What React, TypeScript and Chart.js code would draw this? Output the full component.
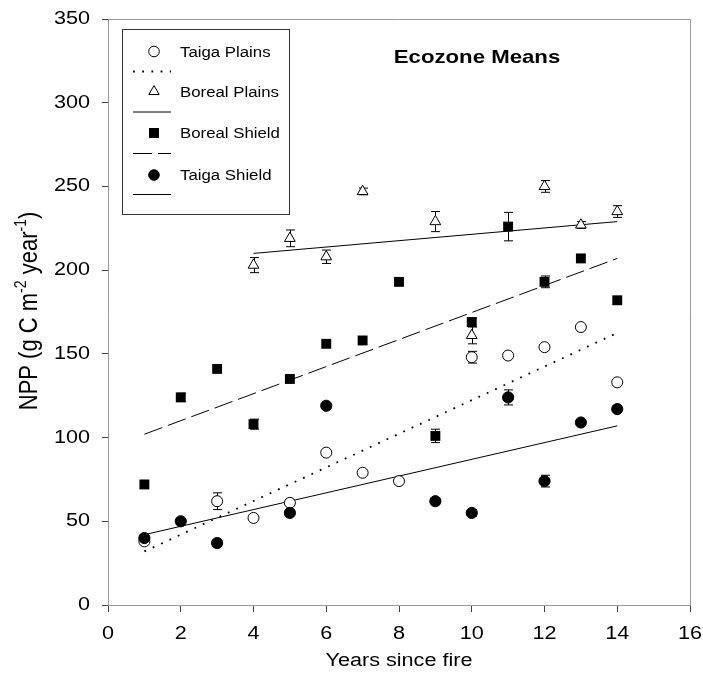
import React, { useEffect, useRef } from 'react';
import { Chart, registerables } from 'chart.js';

Chart.register(...registerables);

// ---------------- data ----------------
const xTicks = [0, 2, 4, 6, 8, 10, 12, 14, 16];
const yTicks = [0, 50, 100, 150, 200, 250, 300, 350];

const seriesNames = ['Taiga Plains', 'Boreal Plains', 'Boreal Shield', 'Taiga Shield'];

const tpYears = [1, 3, 4, 5, 6, 7, 8, 10, 11, 12, 13, 14];
const tpValues = [38, 62, 52, 61, 91, 79, 74, 148, 149, 154, 166, 133];
const tpErr = [0, 5, 0, 0, 0, 0, 0, 3.5, 0, 0, 0, 0];

const bpYears = [4, 5, 6, 7, 9, 10, 12, 13, 14];
const bpValues = [203, 219, 208, 247, 229, 161, 250, 227, 235];
const bpErr = [4.5, 5, 4, 2, 6, 5, 3.5, 2, 3.5];

const bsYears = [1, 2, 3, 4, 5, 6, 7, 8, 9, 10, 11, 12, 13, 14];
const bsValues = [72, 124, 141, 108, 135, 156, 158, 193, 101, 169, 226, 193, 207, 182];
const bsErr = [0, 2.5, 0, 3, 0, 0, 0, 0, 4, 2.5, 8.5, 3.5, 0, 0];

const tsYears = [1, 2, 3, 5, 6, 9, 10, 11, 12, 13, 14];
const tsValues = [40, 50, 37, 55, 119, 62, 55, 124, 74, 109, 117];
const tsErr = [0, 0, 0, 0, 0, 0, 2, 4.5, 3.5, 0, 0];

// regression lines (end points)
const tpFitX = [1, 14];
const tpFitY = [32, 162.5];
const bpFitX = [4, 14];
const bpFitY = [210, 229];
const bsFitX = [1, 14];
const bsFitY = [102, 207];
const tsFitX = [1, 14];
const tsFitY = [42, 107];

// ---------------- helpers ----------------
const FONT = '"Liberation Sans", Arial, Helvetica, sans-serif';
const SX = 1.2;

const pts = (xs: number[], ys: number[]) => xs.map((x, i) => ({ x, y: ys[i] }));

function stretchedText(
  ctx: CanvasRenderingContext2D,
  text: string,
  x: number,
  y: number,
  font: string,
  align: CanvasTextAlign,
  baseline: CanvasTextBaseline
) {
  ctx.save();
  ctx.translate(x, y);
  ctx.scale(SX, 1);
  ctx.font = font;
  ctx.textAlign = align;
  ctx.textBaseline = baseline;
  ctx.fillStyle = '#000';
  ctx.fillText(text, 0, 0);
  ctx.restore();
}

function drawMarker(ctx: CanvasRenderingContext2D, kind: string, x: number, y: number) {
  ctx.save();
  ctx.lineWidth = 1;
  ctx.strokeStyle = '#000';
  ctx.beginPath();
  if (kind === 'openCircle' || kind === 'filledCircle') {
    ctx.arc(x, y, 5.3, 0, Math.PI * 2);
    ctx.fillStyle = kind === 'openCircle' ? '#fff' : '#000';
    ctx.fill();
    ctx.stroke();
  } else if (kind === 'triangle') {
    const r = 6;
    ctx.moveTo(x, y - r);
    ctx.lineTo(x + 0.866 * r, y + 0.5 * r);
    ctx.lineTo(x - 0.866 * r, y + 0.5 * r);
    ctx.closePath();
    ctx.fillStyle = '#fff';
    ctx.fill();
    ctx.stroke();
  } else {
    ctx.fillStyle = '#000';
    ctx.fillRect(x - 5, y - 5, 10, 10);
  }
  ctx.restore();
}

const errorSets = [
  { index: 4, xs: tpYears, ys: tpValues, errs: tpErr },
  { index: 5, xs: bpYears, ys: bpValues, errs: bpErr },
  { index: 6, xs: bsYears, ys: bsValues, errs: bsErr },
  { index: 7, xs: tsYears, ys: tsValues, errs: tsErr },
];

const errorBarPlugin = {
  id: 'errorBars',
  beforeDatasetsDraw(chart: any) {
    const { ctx } = chart;
    const xs = chart.scales.x;
    const ys = chart.scales.y;
    ctx.save();
    ctx.strokeStyle = '#000';
    ctx.lineWidth = 1;
    errorSets.forEach((s) => {
      s.errs.forEach((e, j) => {
        if (!e) return;
        const px = Math.round(xs.getPixelForValue(s.xs[j])) + 0.5;
        const top = ys.getPixelForValue(s.ys[j] + e);
        const bot = ys.getPixelForValue(s.ys[j] - e);
        ctx.beginPath();
        ctx.moveTo(px, top);
        ctx.lineTo(px, bot);
        ctx.moveTo(px - 4.5, top);
        ctx.lineTo(px + 4.5, top);
        ctx.moveTo(px - 4.5, bot);
        ctx.lineTo(px + 4.5, bot);
        ctx.stroke();
      });
    });
    ctx.restore();
  },
};

const legendRows = [
  { name: seriesNames[0], marker: 'openCircle', dash: [1.8, 7.4], width: 1.8 },
  { name: seriesNames[1], marker: 'triangle', dash: [], width: 1 },
  { name: seriesNames[2], marker: 'square', dash: [19, 6], width: 1 },
  { name: seriesNames[3], marker: 'filledCircle', dash: [], width: 1 },
];

const decorPlugin = {
  id: 'decor',
  afterDraw(chart: any) {
    const { ctx, chartArea } = chart;
    const xs = chart.scales.x;
    const ys = chart.scales.y;
    ctx.save();
    // frame top/right
    ctx.strokeStyle = '#999';
    ctx.lineWidth = 1;
    ctx.beginPath();
    ctx.moveTo(chartArea.left, chartArea.top + 0.5);
    ctx.lineTo(chartArea.right + 0.5, chartArea.top + 0.5);
    ctx.lineTo(chartArea.right + 0.5, chartArea.bottom);
    ctx.stroke();

    // tick labels
    const tickFont = `18px ${FONT}`;
    yTicks.forEach((v) => {
      stretchedText(ctx, String(v), 90, ys.getPixelForValue(v), tickFont, 'right', 'middle');
    });
    xTicks.forEach((v) => {
      stretchedText(ctx, String(v), xs.getPixelForValue(v), 639, tickFont, 'center', 'alphabetic');
    });

    // axis titles
    stretchedText(ctx, 'Years since fire', 399, 666, `18px ${FONT}`, 'center', 'alphabetic');

    const parts = [
      { t: 'NPP (g C m', sup: false },
      { t: '-2', sup: true },
      { t: ' year', sup: false },
      { t: '-1', sup: true },
      { t: ')', sup: false },
    ];
    const mainF = `22px ${FONT}`;
    const supF = `14px ${FONT}`;
    ctx.save();
    ctx.translate(37, 311);
    ctx.rotate(-Math.PI / 2);
    ctx.scale(1, SX);
    let total = 0;
    parts.forEach((p) => {
      ctx.font = p.sup ? supF : mainF;
      total += ctx.measureText(p.t).width;
    });
    let cx = -total / 2;
    ctx.fillStyle = '#000';
    ctx.textBaseline = 'alphabetic';
    ctx.textAlign = 'left';
    parts.forEach((p) => {
      ctx.font = p.sup ? supF : mainF;
      ctx.fillText(p.t, cx, p.sup ? -9 : 0);
      cx += ctx.measureText(p.t).width;
    });
    ctx.restore();

    // chart title
    stretchedText(ctx, 'Ecozone Means', 477, 63, `bold 18.5px ${FONT}`, 'center', 'alphabetic');

    // legend
    ctx.fillStyle = '#fff';
    ctx.fillRect(122, 29, 167, 185);
    ctx.strokeStyle = '#333';
    ctx.lineWidth = 1;
    ctx.strokeRect(122.5, 29.5, 167, 185);
    const rowY = [51.5, 91.5, 133, 175];
    const lineY = [71, 111.5, 153, 194];
    legendRows.forEach((r, i) => {
      drawMarker(ctx, r.marker, 154, rowY[i]);
      stretchedText(ctx, r.name, 180, rowY[i] + 5, `14px ${FONT}`, 'left', 'alphabetic');
      ctx.save();
      ctx.strokeStyle = '#000';
      ctx.lineWidth = r.width;
      ctx.setLineDash(r.dash);
      ctx.beginPath();
      ctx.moveTo(133, lineY[i] + 0.5);
      ctx.lineTo(171, lineY[i] + 0.5);
      ctx.stroke();
      ctx.restore();
    });
    ctx.restore();
  },
};

export default function App() {
  const ref = useRef<HTMLCanvasElement | null>(null);

  useEffect(() => {
    document.body.style.margin = '0';
    if (!ref.current) return;
    const lineDs = (xs: number[], ys: number[], dash: number[], width: number) => ({
      data: pts(xs, ys),
      showLine: true,
      borderColor: '#000',
      borderWidth: width,
      borderDash: dash,
      pointRadius: 0,
      fill: false,
      tension: 0,
      order: 10,
    });
    const chart = new Chart(ref.current, {
      type: 'scatter',
      data: {
        datasets: [
          lineDs(tpFitX, tpFitY, [1.8, 7.4], 1.8),
          lineDs(bpFitX, bpFitY, [], 1),
          lineDs(bsFitX, bsFitY, [19, 6], 1),
          lineDs(tsFitX, tsFitY, [], 1),
          {
            label: seriesNames[0],
            data: pts(tpYears, tpValues),
            pointStyle: 'circle',
            pointRadius: 5.5,
            backgroundColor: '#fff',
            borderColor: '#000',
            borderWidth: 1,
            order: 4,
          },
          {
            label: seriesNames[1],
            data: pts(bpYears, bpValues),
            pointStyle: 'triangle',
            pointRadius: 6.2,
            backgroundColor: '#fff',
            borderColor: '#000',
            borderWidth: 1,
            order: 3,
          },
          {
            label: seriesNames[2],
            data: pts(bsYears, bsValues),
            pointStyle: 'rect',
            pointRadius: 7,
            backgroundColor: '#000',
            borderColor: '#000',
            borderWidth: 0,
            order: 2,
          },
          {
            label: seriesNames[3],
            data: pts(tsYears, tsValues),
            pointStyle: 'circle',
            pointRadius: 5.6,
            backgroundColor: '#000',
            borderColor: '#000',
            borderWidth: 1,
            order: 1,
          },
        ],
      },
      options: {
        animation: false,
        responsive: false,
        maintainAspectRatio: false,
        layout: { padding: { top: 19, right: 13, left: 0, bottom: 0 } },
        plugins: {
          legend: { display: false },
          tooltip: { enabled: false },
          title: { display: false },
        },
        scales: {
          x: {
            type: 'linear',
            min: xTicks[0],
            max: xTicks[xTicks.length - 1],
            ticks: { stepSize: 2, display: false },
            grid: { display: true, drawOnChartArea: false, drawTicks: true, tickLength: 7, color: '#444' },
            border: { display: true, color: '#999', width: 1 },
            afterFit: (s: any) => {
              s.height = 75;
            },
          },
          y: {
            type: 'linear',
            min: yTicks[0],
            max: yTicks[yTicks.length - 1],
            ticks: { stepSize: 50, display: false },
            grid: { display: true, drawOnChartArea: false, drawTicks: true, tickLength: 6, color: '#444' },
            border: { display: true, color: '#999', width: 1 },
            afterFit: (s: any) => {
              s.width = 108;
            },
          },
        },
      },
      plugins: [errorBarPlugin, decorPlugin],
    } as any);
    return () => chart.destroy();
  }, []);

  return (
    <div style={{ width: 703, height: 680 }}>
      <canvas ref={ref} width={703} height={680} style={{ display: 'block' }} />
    </div>
  );
}
